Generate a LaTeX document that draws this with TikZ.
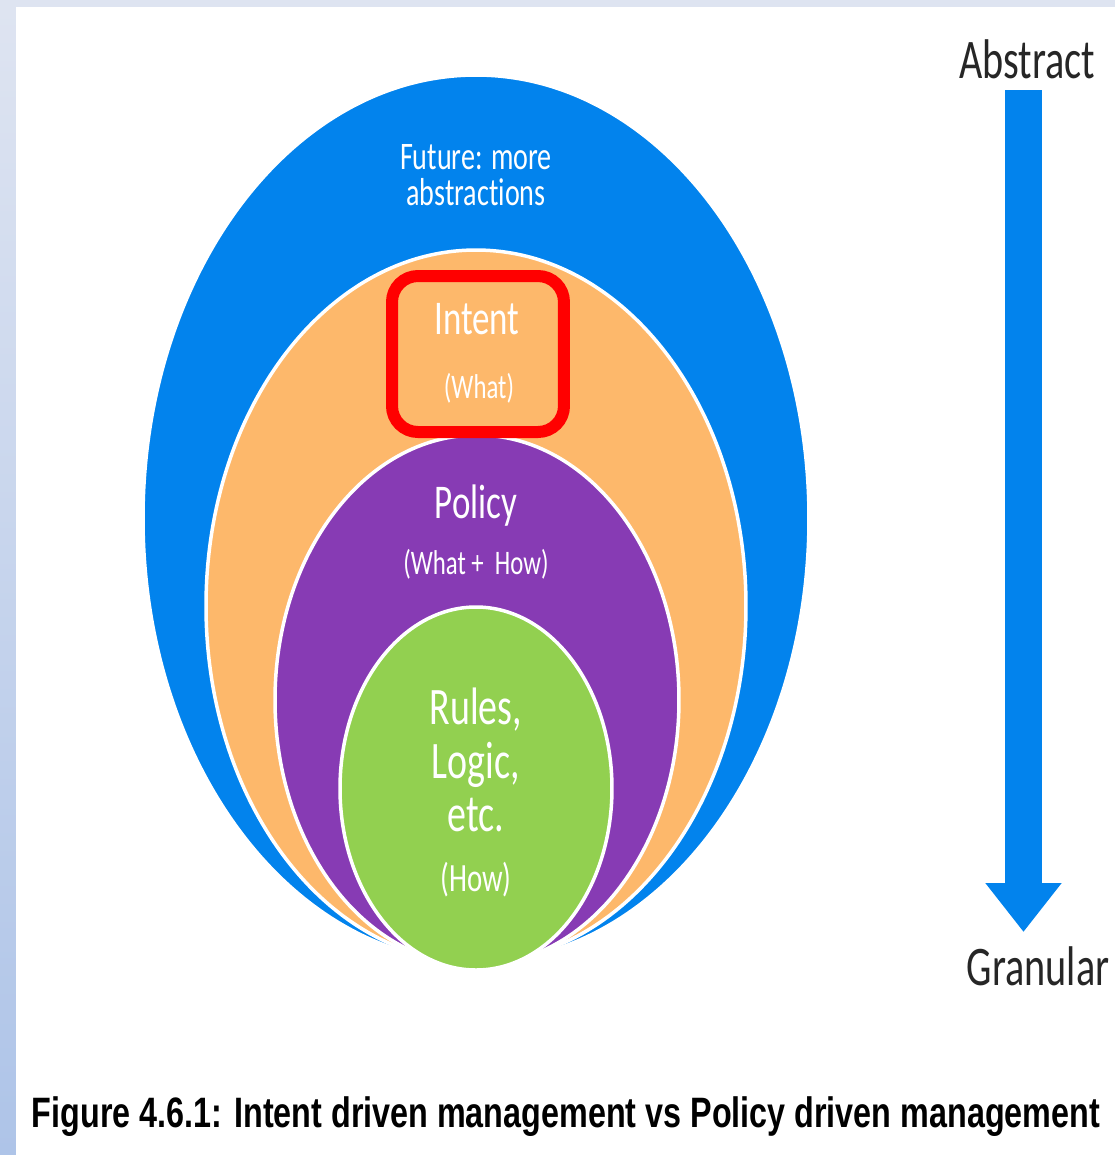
\documentclass[tikz,border=0pt]{standalone}
\usepackage{fontspec}
\setmainfont{Carlito}
\newfontfamily\hildafont[FakeStretch=0.72,Ligatures=NoCommon]{Carlito}
\newfontfamily\capfont[FakeStretch=0.76]{Liberation Sans}
\usetikzlibrary{arrows.meta}
\definecolor{eblue}{RGB}{2,131,237}
\definecolor{eorange}{RGB}{253,184,107}
\definecolor{epurple}{RGB}{135,59,180}
\definecolor{egreen}{RGB}{146,208,80}
\definecolor{framebg}{RGB}{222,228,241}
\definecolor{framedark}{RGB}{174,196,232}

\begin{document}
\begin{tikzpicture}[x=0.1mm,y=-0.1mm,
  layer/.style={draw=white,line width=0.35mm},
  inlbl/.style={text=white,inner sep=0pt,align=center},
  sidelbl/.style={text=black!85,inner sep=0pt,font=\hildafont\fontsize{15.9}{16}\selectfont},
  bigarrow/.style={eblue,line width=3.7mm,-{Triangle[width=7.3mm,length=4.9mm]}}]
  \useasboundingbox (0,0) rectangle (1115,1155);
  \fill[framebg] (0,0) rectangle (1115,1155);
  \shade[top color=framebg,bottom color=framedark] (0,7) rectangle (16,1155);
  \fill[white] (16,7) rectangle (1115,1155);

  % nested layers, outer to inner
  \filldraw[layer,fill=eblue] (476,518.5) ellipse [x radius=33.3mm,y radius=44.35mm];
  \filldraw[layer,fill=eorange] (476,606) ellipse [x radius=27mm,y radius=35.6mm];
  \filldraw[layer,fill=epurple] (477,700) ellipse [x radius=20.2mm,y radius=26.5mm];
  \filldraw[layer,fill=egreen] (476,788.5) ellipse [x radius=13.6mm,y radius=18.15mm];

  \node[draw=red,line width=1.2mm,rounded corners=2.6mm,minimum width=17.2mm,minimum height=15.6mm] (intentbox) at (478,354) {};

  \node[inlbl,font=\hildafont\fontsize{11.1}{10.2}\selectfont] (future) at (476,175) {Future: more\\abstractions};
  \node[inlbl,font=\hildafont\fontsize{13.8}{14}\selectfont] (intent) at (477,319) {Intent};
  \node[inlbl,font=\hildafont\fontsize{9.8}{10}\selectfont] (what) at (479,388) {(What)};
  \node[inlbl,font=\hildafont\fontsize{13.8}{14}\selectfont] (policy) at (476,506) {Policy};
  \node[inlbl,font=\hildafont\fontsize{9.8}{10}\selectfont] (whathow) at (476,564) {(What +\ \ How)};
  \node[inlbl,font=\hildafont\fontsize{15}{15.2}\selectfont] (rules) at (476,760) {Rules,\\Logic,\\etc.};
  \node[inlbl,font=\hildafont\fontsize{11.4}{12}\selectfont] (how) at (476,880) {(How)};

  \node[sidelbl] (abstract) at (1027,59) {Abstract};
  \node[sidelbl] (granular) at (1038,966) {Granular};
  \coordinate (arrtop) at (1023.5,90);
  \coordinate (arrtip) at (1023.5,932);
  \draw[bigarrow] (arrtop) -- (arrtip);

  \node[inner sep=0pt,font=\capfont\bfseries\fontsize{12.1}{14}\selectfont] (caption) at (566,1117)
    {Figure 4.6.1: Intent driven management vs Policy driven management};
\end{tikzpicture}
\end{document}
